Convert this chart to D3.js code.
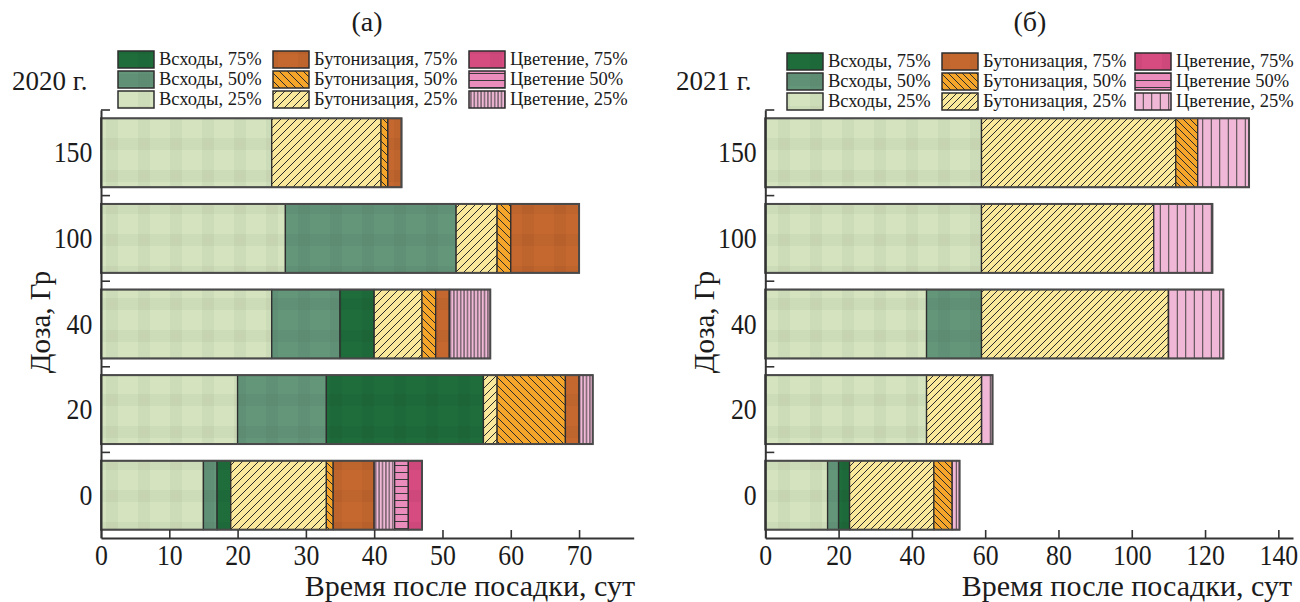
<!DOCTYPE html>
<html>
<head>
<meta charset="utf-8">
<script src="https://cdn.jsdelivr.net/npm/d3@7"></script>
<style>
  body { margin: 0; background: #fff; }
  svg text { font-family: 'Liberation Serif', 'Times New Roman', serif; fill: #1b1b1b; }
</style>
</head>
<body>
<svg id="chart" width="1300" height="602"></svg>
<script>
// Phenology of plants grown from irradiated tubers, 2020 and 2021

const doses = ['150', '100', '40', '20', '0'];
const stages = [
    'Всходы, 25%', 'Всходы, 50%', 'Всходы, 75%',
    'Бутонизация, 25%', 'Бутонизация, 50%', 'Бутонизация, 75%',
    'Цветение, 25%', 'Цветение 50%', 'Цветение, 75%'
];
// legend is laid out by columns: 75% on top, 25% at the bottom
const legendCols = [[2, 1, 0], [5, 4, 3], [8, 7, 6]];

// day when each stage ends, one value per dose (150, 100, 40, 20, 0); null = stage not reached
const ends2020 = [
    [25, 27, 25, 20, 15],           // Всходы, 25%
    [null, 52, 35, 33, 17],         // Всходы, 50%
    [null, null, 40, 56, 19],       // Всходы, 75%
    [41, 58, 47, 58, 33],           // Бутонизация, 25%
    [42, 60, 49, 68, 34],           // Бутонизация, 50%
    [44, 70, 51, 70, 40],           // Бутонизация, 75%
    [null, null, 57, 72, 43],       // Цветение, 25%
    [null, null, null, null, 45],   // Цветение 50%
    [null, null, null, null, 47]    // Цветение, 75%
];
const ends2021 = [
    [59, 59, 44, 44, 17],
    [null, null, 59, null, 20],
    [null, null, null, null, 23],
    [112, 106, 110, 59, 46],
    [118, null, null, null, 51],
    [null, null, null, null, null],
    [132, 122, 125, 62, 53],
    [null, null, null, null, null],
    [null, null, null, null, null]
];
const ticks2020 = [0, 10, 20, 30, 40, 50, 60, 70];
const ticks2021 = [0, 20, 40, 60, 80, 100, 120, 140];

const stageColors = ['#d5e4bf', '#64967a', '#1f6d3b', '#fbe99b', '#f6a52b', '#c5682f', '#f0b8d6', '#ea8cbc', '#d64b80'];
const stageKind = ['plaid', 'plaid', 'plaid', 'fwd', 'back', 'plaid', 'vert', 'horiz', 'plaid'];

const svg = d3.select('#chart');
const defs = svg.append('defs');

function makePatterns(prefix, hatch, stripe) {
    stageColors.forEach((c, i) => {
        const kind = stageKind[i];
        let w = 32, h = 32;
        if (kind === 'fwd' || kind === 'back') { w = hatch; h = hatch; }
        if (kind === 'vert') { w = stripe; h = 10; }
        if (kind === 'horiz') { w = 10; h = 7; }
        const p = defs.append('pattern').attr('id', `${prefix}-${i}`)
            .attr('patternUnits', 'userSpaceOnUse').attr('width', w).attr('height', h);
        p.append('rect').attr('width', w).attr('height', h).attr('fill', c);
        if (kind === 'plaid') {
            p.append('rect').attr('x', 0).attr('y', 10).attr('width', w).attr('height', 12).attr('fill', '#000').attr('opacity', 0.035);
            p.append('rect').attr('x', 10).attr('y', 0).attr('width', 12).attr('height', h).attr('fill', '#000').attr('opacity', 0.035);
        } else if (kind === 'fwd') {
            p.append('path').attr('d', `M0,${h} L${w},0 M${-w / 2},${h / 2} L${w / 2},${-h / 2} M${w / 2},${h * 1.5} L${w * 1.5},${h / 2}`)
                .attr('stroke', '#2b2b2b').attr('stroke-width', 1);
        } else if (kind === 'back') {
            p.append('path').attr('d', `M0,0 L${w},${h} M${-w / 2},${h / 2} L${w / 2},${h * 1.5} M${w / 2},${-h / 2} L${w * 1.5},${h / 2}`)
                .attr('stroke', '#2b2b2b').attr('stroke-width', 1);
        } else if (kind === 'vert') {
            p.append('line').attr('x1', w / 2).attr('x2', w / 2).attr('y1', 0).attr('y2', h)
                .attr('stroke', '#3a3a3a').attr('stroke-width', 1);
        } else if (kind === 'horiz') {
            p.append('line').attr('x1', 0).attr('x2', w).attr('y1', h / 2).attr('y2', h / 2)
                .attr('stroke', '#3a3a3a').attr('stroke-width', 1);
        }
    });
}

function drawPanel(cfg) {
    makePatterns(cfg.id, cfg.hatch, cfg.stripe);

    const x = d3.scaleLinear().domain([0, cfg.xMax]).range([cfg.x0, cfg.x1]);
    const y = d3.scaleBand().domain(doses).range([110, 538]).paddingInner(0.195).paddingOuter(0.0975);
    const gap = y.step() * y.paddingInner() / 2;

    const g = svg.append('g');

    // segments: each stage runs from the end of the previous reached stage to its own end
    const segs = [];
    doses.forEach((d, di) => {
        let prev = 0;
        cfg.ends.forEach((row, si) => {
            const v = row[di];
            if (v == null) return;
            segs.push({ dose: d, stage: si, from: prev, to: v });
            prev = v;
        });
    });

    g.selectAll('rect.seg').data(segs).enter().append('rect')
        .attr('class', 'seg')
        .attr('x', d => x(d.from))
        .attr('y', d => y(d.dose))
        .attr('width', d => x(d.to) - x(d.from))
        .attr('height', y.bandwidth())
        .attr('fill', d => `url(#${cfg.id}-${d.stage})`)
        .attr('stroke', '#2e2e2e').attr('stroke-width', 1.3);

    // outer outline of each bar
    g.selectAll('rect.outline').data(doses).enter().append('rect')
        .attr('x', x(0))
        .attr('y', d => y(d))
        .attr('width', (d, di) => x(d3.max(cfg.ends, r => r[di])) - x(0))
        .attr('height', y.bandwidth())
        .attr('fill', 'none').attr('stroke', '#4a4a4a').attr('stroke-width', 2);

    // x axis with inward ticks
    const xAxis = g.append('g').attr('transform', 'translate(0,538)')
        .call(d3.axisBottom(x).tickValues(cfg.ticks).tickSizeInner(-8).tickSizeOuter(0).tickPadding(6));
    xAxis.select('.domain').attr('stroke', '#333').attr('stroke-width', 2);
    xAxis.selectAll('.tick line').attr('stroke', '#333').attr('stroke-width', 1.6);
    xAxis.selectAll('.tick text').attr('font-size', 30).attr('fill', '#1b1b1b')
        .attr('transform', 'scale(0.86,1)');

    // y axis: labels centred on bars, ticks on band boundaries
    const yAxis = g.append('g').attr('transform', `translate(${cfg.x0},0)`)
        .call(d3.axisLeft(y).tickSize(0).tickPadding(10));
    yAxis.select('.domain').attr('stroke', '#333').attr('stroke-width', 2);
    yAxis.selectAll('.tick text').attr('font-size', 30).attr('fill', '#1b1b1b')
        .attr('transform', 'scale(0.86,1)');
    g.selectAll('line.bt').data(doses).enter().append('line')
        .attr('x1', cfg.x0).attr('x2', cfg.x0 + 9)
        .attr('y1', d => y(d) - gap).attr('y2', d => y(d) - gap)
        .attr('stroke', '#333').attr('stroke-width', 1.6);

    // titles
    g.append('text').attr('x', cfg.titleX).attr('y', 31).attr('text-anchor', 'middle')
        .attr('font-size', 28).text(cfg.title);
    g.append('text').attr('x', cfg.yearX).attr('y', 90).attr('font-size', 27).text(cfg.year);
    g.append('text').attr('x', cfg.xLabelRight).attr('y', 596).attr('text-anchor', 'end')
        .attr('font-size', 30).text('Время после посадки, сут');
    g.append('text').attr('transform', `translate(${cfg.yLabelX},322) rotate(-90)`)
        .attr('text-anchor', 'middle').attr('dy', '0.35em').attr('font-size', 29).text('Доза, Гр');

    // legend
    legendCols.forEach((col, ci) => {
        col.forEach((si, ri) => {
            const lx = cfg.legendX[ci];
            const ly = cfg.legendY + ri * 20;
            g.append('rect').attr('x', lx).attr('y', ly).attr('width', 36).attr('height', 17)
                .attr('fill', `url(#${cfg.id}-${si})`).attr('stroke', '#2e2e2e').attr('stroke-width', 1.5);
            g.append('text').attr('x', lx + 41).attr('y', ly + 14).attr('font-size', 18.5).text(stages[si]);
        });
    });
}

drawPanel({
    id: 'p2020', ends: ends2020, ticks: ticks2020, xMax: 78, x0: 101, x1: 633.7,
    hatch: 8, stripe: 3.4, title: '(а)', titleX: 367, year: '2020 г.', yearX: 12,
    xLabelRight: 635, yLabelX: 40, legendX: [118, 273, 469], legendY: 51
});
drawPanel({
    id: 'p2021', ends: ends2021, ticks: ticks2021, xMax: 144, x0: 765.3, x1: 1293,
    hatch: 7, stripe: 8.5, title: '(б)', titleX: 1030, year: '2021 г.', yearX: 676,
    xLabelRight: 1292, yLabelX: 704, legendX: [787, 942, 1135], legendY: 53
});
</script>
</body>
</html>
